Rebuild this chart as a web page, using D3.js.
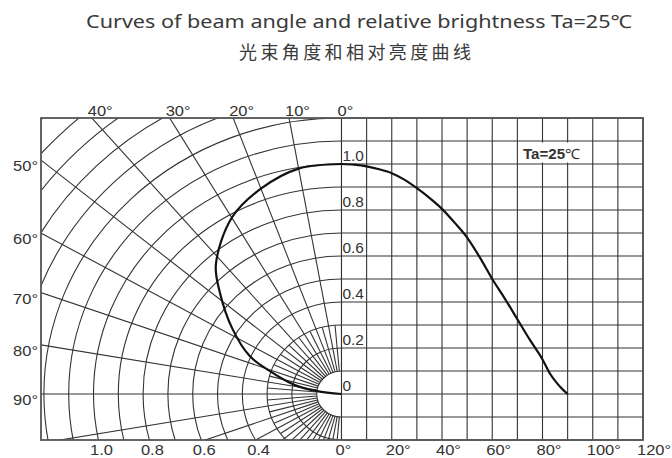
<!DOCTYPE html>
<html><head><meta charset="utf-8">
<script src="https://cdn.jsdelivr.net/npm/d3@7"></script>
<style>body{margin:0;background:#fff}svg{display:block}</style>
</head><body><svg id="c" width="672" height="458"></svg>
<script>
const titleEn = "Curves of beam angle and relative brightness Ta=25\u2103";
const titleZh = "光束角度和相对亮度曲线";
const legendMain = "Ta=25";
const legendUnit = "\u2103";
// right (cartesian) curve: angle (deg) -> relative brightness
const cartAngles = [0,5,10,15,20,25,30,35,40,45,50,55,60,65,70,75,80,83,86,88,90];
const cartValues = [1.0,0.997,0.99,0.977,0.96,0.932,0.895,0.853,0.805,0.745,0.68,0.595,0.50,0.415,0.325,0.235,0.15,0.088,0.044,0.02,0];
// left (polar) curve
const polarAngles = [0,10,20,30,42,48,57,66,71,78,83,90];
const polarValues = [1.0,0.995,0.95,0.885,0.757,0.66,0.526,0.405,0.305,0.198,0.1,0];
// tick labels
const xTicks = [0,20,40,60,80,100,120];
const yTicks = [1.0,0.8,0.6,0.4,0.2,0];
const angleTicksTop = [40,30,20,10,0];
const angleTicksLeft = [50,60,70,80,90];
const radiusTicks = [1.0,0.8,0.6,0.4];

(function(){
const svg = d3.select("#c");
const x = d3.scaleLinear().domain([0,120]).range([341.5,643]);
const y = d3.scaleLinear().domain([-0.2,1.2]).range([440,118]);
const rX = d3.scaleLinear().domain([0,1]).range([0,248]);
const rY = d3.scaleLinear().domain([0,1]).range([0,y(0)-y(1)]);
const cx = x(0), cy = y(0), L = 41, T = y(1.2), B = y(-0.2);
const P = (deg,r)=>{const a=deg*Math.PI/180; return [cx - rX(r)*Math.sin(a), cy - rY(r)*Math.cos(a)];};

svg.append("defs").append("clipPath").attr("id","pc").append("rect")
  .attr("x",L).attr("y",T).attr("width",cx-L).attr("height",B-T);

const gridColor = "#333", gw = 1.1;
// right grid
const rg = svg.append("g").attr("stroke",gridColor).attr("stroke-width",gw);
rg.selectAll("line.v").data(d3.range(0,121,10)).join("line").attr("class","v")
  .attr("x1",d=>x(d)).attr("x2",d=>x(d)).attr("y1",T).attr("y2",B);
rg.selectAll("line.h").data(d3.range(-2,13).map(i=>i/10)).join("line").attr("class","h")
  .attr("x1",x(0)).attr("x2",x(120)).attr("y1",d=>y(d)).attr("y2",d=>y(d));

// polar grid
const pg = svg.append("g").attr("clip-path","url(#pc)").attr("stroke",gridColor).attr("stroke-width",gw).attr("fill","none");
pg.selectAll("ellipse").data(d3.range(1,19).map(i=>i/10)).join("ellipse")
  .attr("cx",cx).attr("cy",cy).attr("rx",d=>rX(d)).attr("ry",d=>rY(d));
pg.selectAll("line.maj").data(d3.range(0,181,10)).join("line").attr("class","maj")
  .attr("x1",d=>P(d,0.1)[0]).attr("y1",d=>P(d,0.1)[1]).attr("x2",d=>P(d,2.4)[0]).attr("y2",d=>P(d,2.4)[1]);
pg.selectAll("line.min").data(d3.range(5,180,10)).join("line").attr("class","min")
  .attr("x1",d=>P(d,0.1)[0]).attr("y1",d=>P(d,0.1)[1]).attr("x2",d=>P(d,0.3)[0]).attr("y2",d=>P(d,0.3)[1]);

// frame
svg.append("rect").attr("x",L).attr("y",T).attr("width",x(120)-L).attr("height",B-T)
  .attr("fill","none").attr("stroke","#555").attr("stroke-width",1.8);

// curves
svg.append("path").attr("fill","none").attr("stroke","#111").attr("stroke-width",2.2)
  .attr("d", d3.line().curve(d3.curveCatmullRom)(polarAngles.map((a,i)=>P(a,polarValues[i]))));
svg.append("path").attr("fill","none").attr("stroke","#111").attr("stroke-width",2.2)
  .attr("d", d3.line().x(d=>x(d[0])).y(d=>y(d[1])).curve(d3.curveMonotoneX)(cartAngles.map((a,i)=>[a,cartValues[i]])));

// labels
const lf = "'Liberation Sans', Arial, sans-serif";
function lab(tx,ty,txt,anchor,size){
  svg.append("text").attr("transform",`translate(${tx},${ty}) scale(1.1,1)`)
    .attr("text-anchor",anchor).attr("font-family",lf).attr("font-size",size).attr("fill","#333").text(txt);
}
angleTicksTop.forEach(d=>{
  const a=d*Math.PI/180; const hx = cx - (cy-T)/rY(1)*rX(1)*Math.tan(a);
  lab(hx-4, T-2, d+"°", "start", 15);
});
angleTicksLeft.forEach(d=>{
  const a=d*Math.PI/180; const hy = cy - (cx-L)/rX(1)*rY(1)/Math.tan(a);
  lab(L-3, hy+11, d+"°", "end", 15);
});
radiusTicks.forEach(d=>{
  const du=(B-cy)/rY(1); const hx = cx - rX(Math.sqrt(d*d-du*du));
  lab(hx+3, B+15, d.toFixed(1), "middle", 15);
});
xTicks.forEach(d=> lab(x(d)-6, B+15, d+"°", "start", 15));
yTicks.forEach(d=> lab(x(0)+1, y(d)-3.5, d===0?"0":d.toFixed(1), "start", 14));

// legend
svg.append("rect").attr("x",521).attr("y",y(1.1)+1.5).attr("width",70).attr("height",y(1.0)-y(1.1)-3).attr("fill","#fff");
const lt = svg.append("text").attr("transform","translate(523,158.5) scale(1.08,1)").attr("font-family",lf).attr("font-size",14).attr("fill","#333");
lt.append("tspan").attr("font-weight","bold").text(legendMain);
lt.append("tspan").attr("font-weight","normal").text(legendUnit);

// titles
svg.append("text").attr("x",86).attr("y",28).attr("font-family","'Noto Sans', 'Noto Sans CJK SC', sans-serif")
  .attr("font-size",18).attr("fill","#3a3a3a").attr("textLength",546).attr("lengthAdjust","spacingAndGlyphs").text(titleEn);
svg.append("text").attr("x",239).attr("y",59).attr("font-family","'Noto Sans CJK SC', sans-serif")
  .attr("font-size",18).attr("fill","#3a3a3a").attr("textLength",232).attr("lengthAdjust","spacing").text(titleZh);
})();
</script></body></html>
